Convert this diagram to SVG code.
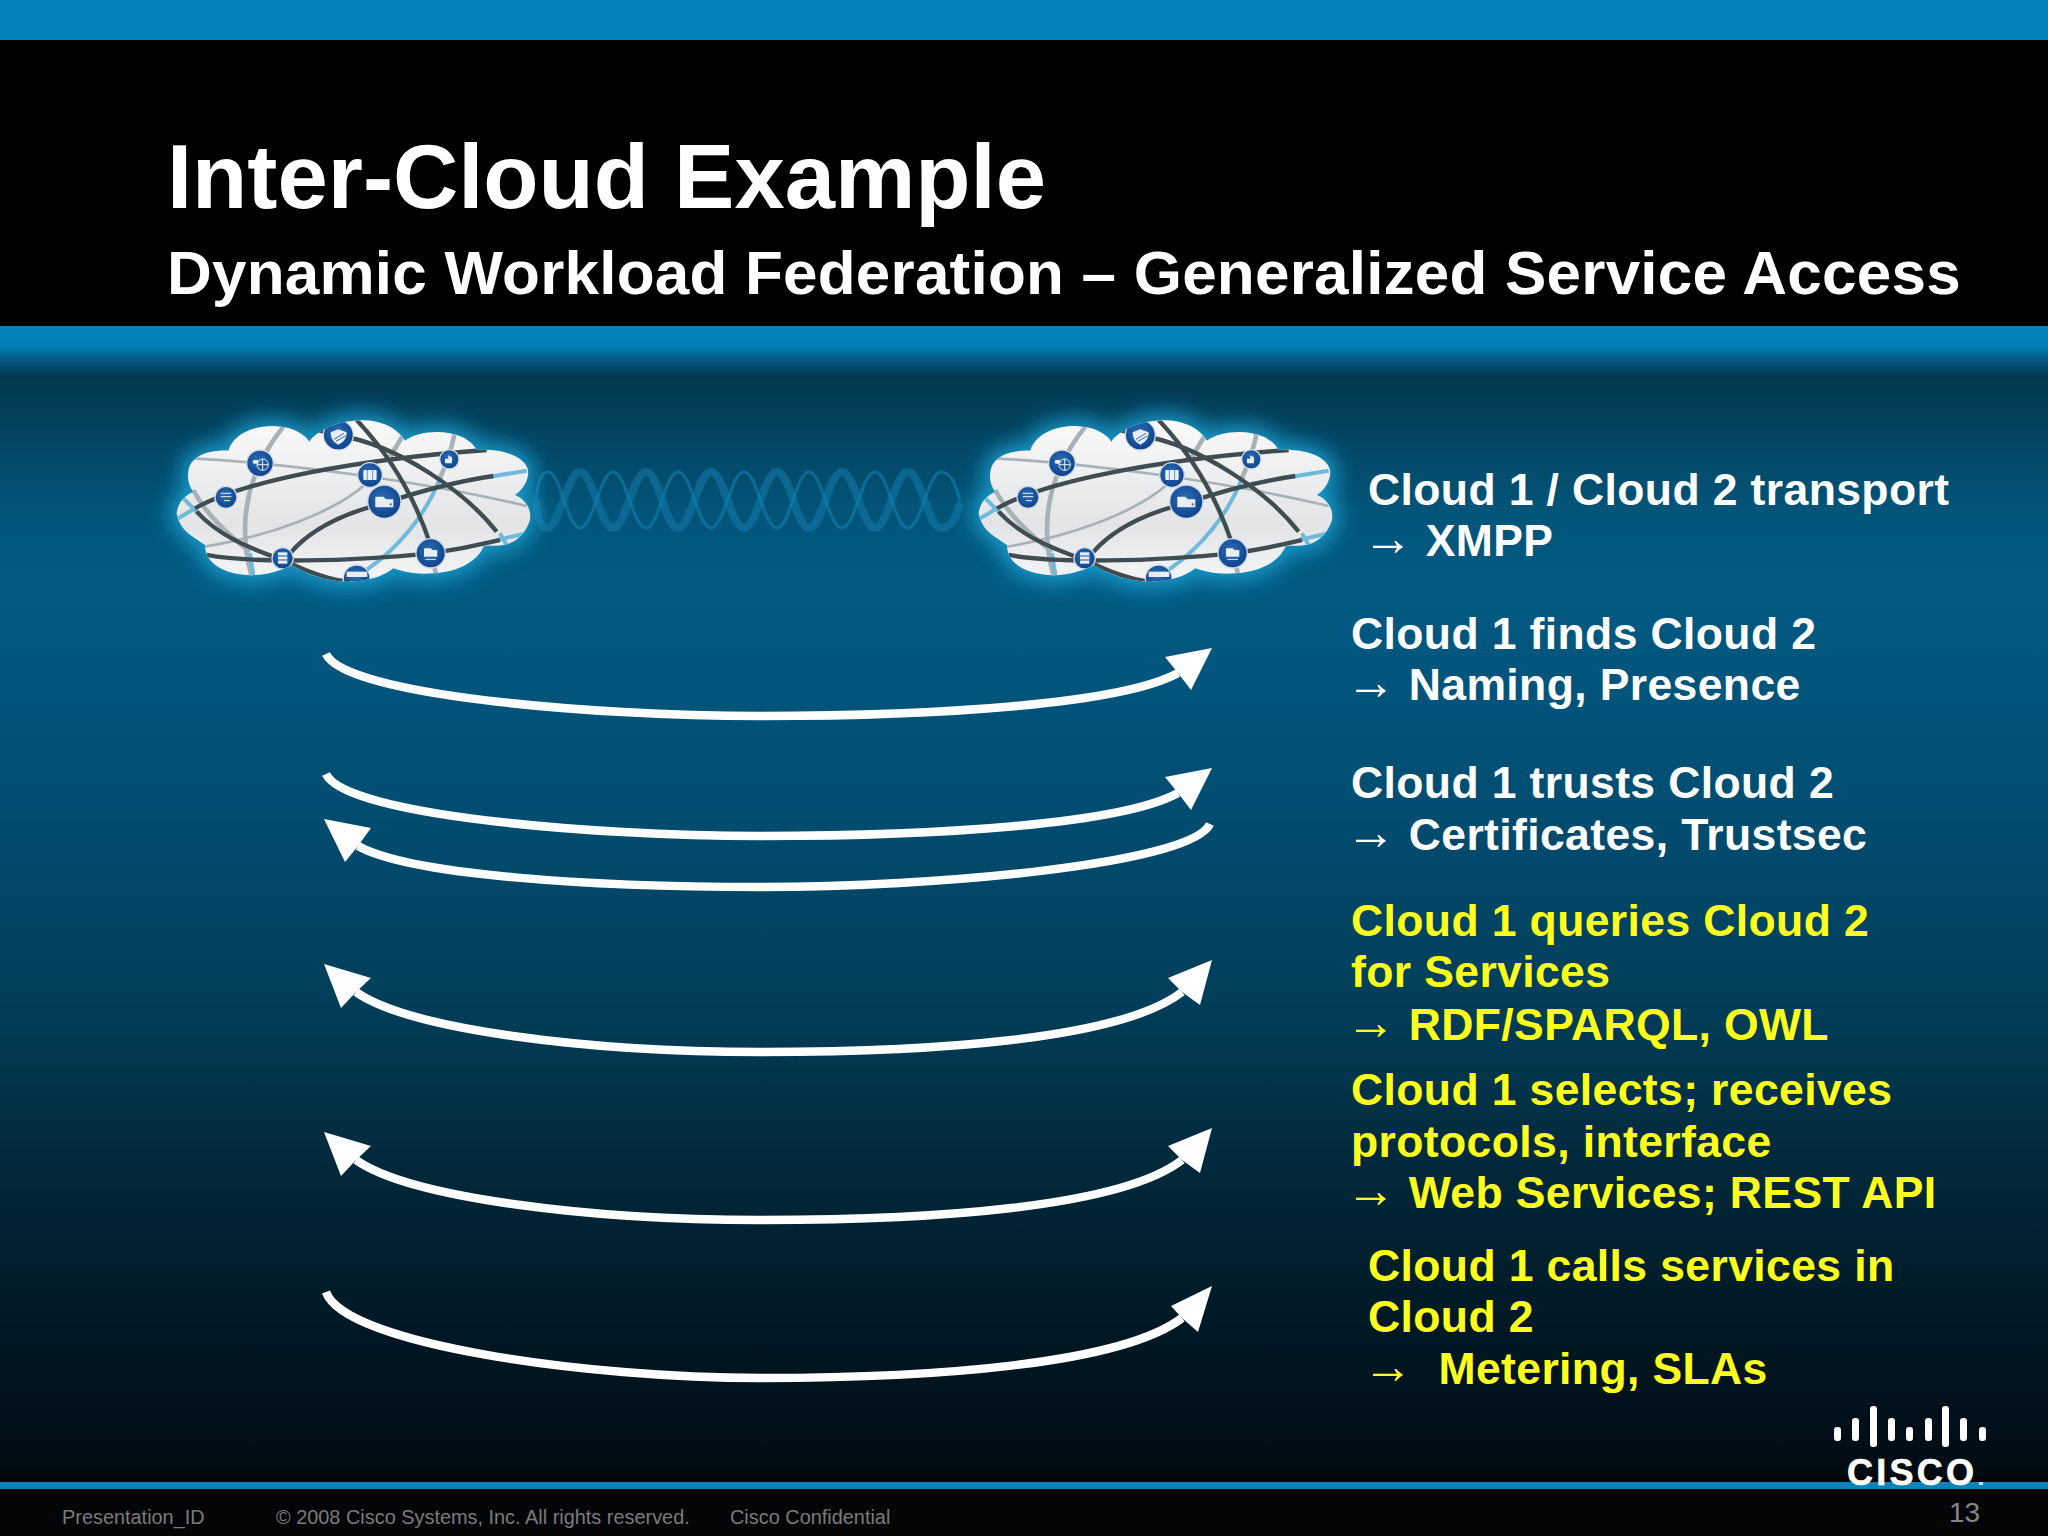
<svg xmlns="http://www.w3.org/2000/svg" xmlns:xlink="http://www.w3.org/1999/xlink" width="2048" height="1536" viewBox="0 0 2048 1536">
<style>
text{font-family:"Liberation Sans",Arial,sans-serif}
.t{font-weight:700;fill:#fff}
.b{font-size:44.5px;font-weight:700;fill:#fff;letter-spacing:.38px}
.y{font-size:44.5px;font-weight:700;fill:#ffff1e;letter-spacing:.38px}
.a{font-family:"Liberation Serif",serif;font-weight:400;font-size:50px;letter-spacing:0}
.f{font-size:19.9px;fill:#7b7b7b}
.shaft{fill:none;stroke:#fff;stroke-width:8.5;stroke-linecap:butt}
.head{fill:#fff}
.d{fill:none;stroke:#3f4d52;stroke-width:13}
.g{fill:none;stroke:#a6b2b7;stroke-width:14}
.l{fill:none;stroke:#6fb9da;stroke-width:12}
.n{fill:url(#disc);stroke:#cfdbe6;stroke-width:4}
.w{fill:#e8eef4}
.m{fill:none;stroke:#e8eef4;stroke-width:3}
.bar{fill:#fff}
</style>
<defs>
<linearGradient id="body" x1="0" y1="376" x2="0" y2="1476" gradientUnits="userSpaceOnUse">
<stop offset="0" stop-color="#04384f"/><stop offset=".12" stop-color="#025478"/><stop offset=".19" stop-color="#025a83"/><stop offset=".38" stop-color="#014e72"/><stop offset=".57" stop-color="#023e59"/><stop offset=".7" stop-color="#022b3e"/><stop offset=".83" stop-color="#011c29"/><stop offset=".96" stop-color="#010f18"/><stop offset="1" stop-color="#010b11"/>
</linearGradient>
<linearGradient id="band" x1="0" y1="326" x2="0" y2="376" gradientUnits="userSpaceOnUse">
<stop offset="0" stop-color="#0382bc"/><stop offset=".4" stop-color="#037fb5"/><stop offset=".7" stop-color="#04557c"/><stop offset="1" stop-color="#033a58"/>
</linearGradient>
<linearGradient id="cl" x1="0" y1="0" x2="0" y2="1">
<stop offset="0" stop-color="#fafafa"/><stop offset=".65" stop-color="#e2e4e6"/><stop offset="1" stop-color="#f6f6f7"/>
</linearGradient>
<radialGradient id="disc" cx=".45" cy=".4" r=".65">
<stop offset="0" stop-color="#2c6db4"/><stop offset="1" stop-color="#0c3f88"/>
</radialGradient>
<filter id="glow" x="-25%" y="-40%" width="150%" height="180%"><feGaussianBlur stdDeviation="32"/></filter>
<filter id="soft" x="-5%" y="-20%" width="110%" height="140%"><feGaussianBlur stdDeviation=".7"/></filter>
<path id="outline" d="M80,340C85,300 110,285 130,275C115,255 112,235 115,215C120,175 160,150 235,152C250,100 320,70 395,80C440,85 470,110 478,125C510,80 600,50 680,65C720,75 750,95 765,122C800,95 880,85 935,110C965,125 975,140 980,150C1060,145 1130,170 1135,215C1135,250 1110,275 1095,285C1130,300 1145,330 1140,360C1130,395 1100,430 1060,435C1030,440 1010,435 1000,440C985,480 930,515 850,520C800,525 760,515 730,505C700,530 650,545 590,545C540,545 470,525 425,495C400,510 340,530 290,525C220,520 165,490 165,435C130,410 90,395 80,340Z"/>
<clipPath id="clip"><use xlink:href="#outline"/></clipPath>
<g id="cloud">
<use xlink:href="#outline" fill="#1fa5d8" stroke="#1fa5d8" stroke-width="44" opacity=".85" filter="url(#glow)"/>
<use xlink:href="#outline" fill="url(#cl)"/>
<g clip-path="url(#clip)">
<path class="g" d="M400,80C320,180 250,330 305,530"/>
<path class="g" style="stroke-width:8" d="M130,175C400,190 800,240 1130,318"/>
<path class="g" style="stroke-width:8" d="M165,440C350,410 550,340 650,250"/>
<path class="g" d="M760,105L720,170"/>
<path class="g" d="M915,95C905,150 890,190 870,235"/>
<path class="l" d="M870,235C830,340 750,440 650,510"/>
<path class="g" d="M130,270C165,340 240,410 300,455"/>
<path class="g" d="M850,480L858,525"/>
<path class="l" d="M85,355L135,325M100,295L150,345M300,460L310,525M425,495L530,545M1050,400L1070,435M1130,212L1020,230M1130,400L1040,420"/>
<path class="d" d="M135,325C280,245 600,180 1010,150"/>
<path class="d" d="M620,60Q770,220 840,430"/>
<path class="d" d="M500,90L560,105C750,135 950,280 1040,395"/>
<path class="d" d="M140,335C200,400 280,440 400,480"/>
<path class="d" d="M420,460C480,390 580,340 700,310C850,260 950,240 1030,228"/>
<path class="d" d="M170,465C300,490 600,485 842,460C950,445 1000,432 1050,420"/>
<path class="d" d="M400,480C460,510 530,540 600,545"/>
<circle class="n" cx="330" cy="190" r="40"/><circle class="m" cx="338" cy="194" r="17"/><path class="m" d="M321,194H355M338,177V211"/><rect class="w" x="308" y="180" width="18" height="11" rx="5"/>
<circle class="n" cx="565" cy="105" r="45"/><path class="w" d="M565,88L590,97C590,118 578,128 565,134C552,128 542,118 542,97Z"/><path d="M552,118L582,100M558,124L586,108" stroke="#2c6db4" stroke-width="3"/>
<circle class="n" cx="898" cy="178" r="29"/><path class="w" d="M885,176H895V166L906,172V190H885Z"/>
<circle class="n" cx="660" cy="225" r="37"/><rect class="w" x="640" y="210" width="40" height="30" rx="3"/><path d="M652,210V240M668,210V240" stroke="#6b93c2" stroke-width="3"/>
<circle class="n" cx="228" cy="292" r="33"/><path class="m" d="M212,280H244M212,290H244M222,302H240"/>
<circle class="n" cx="703" cy="305" r="50"/><path class="w" d="M676,290H700L708,298H730V322H676Z"/><path d="M718,313H726M722,309V317" stroke="#1a4f96" stroke-width="2"/>
<circle class="n" cx="842" cy="460" r="44"/><path class="w" d="M822,445H842L848,450H862V470H822Z"/><path class="m" d="M826,478H858"/>
<circle class="n" cx="398" cy="475" r="32"/><rect class="w" x="384" y="457" width="28" height="34"/><path d="M384,468H412M384,480H412" stroke="#1a4f96" stroke-width="3"/>
<circle class="n" cx="620" cy="535" r="40"/><rect class="w" x="590" y="515" width="62" height="16"/>
</g>
</g>
</defs>

<rect id="bg" width="2048" height="1536" fill="#030507"/>
<rect y="376" width="2048" height="1100" fill="url(#body)"/>
<rect width="2048" height="40" fill="#0284b9"/>
<rect y="40" width="2048" height="286" fill="#000"/>
<rect y="326" width="2048" height="50" fill="url(#band)"/>
<rect y="1482" width="2048" height="7" fill="#0a84bb"/>

<g id="helix" fill="none" filter="url(#soft)">
<path stroke="#0f77a6" stroke-width="8" stroke-opacity=".6" d="M536,500Q538,528 547,528C560,528 567,472 580,472S600,528 613,528S633,472 646,472S665,528 678,528S698,472 711,472S731,528 744,528S764,472 777,472S796,528 809,528S829,472 842,472S862,528 875,528S895,472 908,472S928,528 941,528Q954,528 960,503"/>
<path stroke="#1280b0" stroke-width="3" stroke-opacity=".6" d="M536,500Q538,472 548,472C561,472 567,528 580,528S600,472 613,472S633,528 646,528S665,472 678,472S698,528 711,528S731,472 744,472S764,528 777,528S796,472 809,472S829,528 842,528S862,472 875,472S895,528 908,528S928,472 941,472Q954,472 960,503"/>
</g>

<g id="cloud-1" transform="translate(150,400) scale(.3333)"><use xlink:href="#cloud"/></g>
<g id="cloud-2" transform="translate(952,400) scale(.3333)"><use xlink:href="#cloud"/></g>

<g id="connectors">
<path class="shaft" d="M326,654C345,695 590,716 760,716C930,716 1120,705 1178,673"/><polygon class="head" points="1212,648 1165,657 1178,673 1191,690"/>
<path class="shaft" d="M326,774C345,815 590,836 760,836C930,836 1120,825 1178,793"/><polygon class="head" points="1212,768 1165,777 1178,793 1191,810"/>
<path class="shaft" d="M1210,824C1190,865 930,887 760,887C590,887 410,875 358,846"/><polygon class="head" points="324,819 371,828 358,846 345,862"/>
<path class="shaft" d="M356,992C410,1030 590,1052 760,1052C930,1052 1120,1040 1182,992"/><polygon class="head" points="324,964 371,978 356,992 341,1008"/><polygon class="head" points="1212,960 1168,978 1182,992 1200,1005"/>
<path class="shaft" d="M356,1160C410,1198 590,1220 760,1220C930,1220 1120,1208 1182,1160"/><polygon class="head" points="324,1132 371,1146 356,1160 341,1176"/><polygon class="head" points="1212,1128 1168,1146 1182,1160 1200,1173"/>
<path class="shaft" d="M326,1292C345,1345 590,1378 760,1378C930,1378 1120,1365 1182,1318"/><polygon class="head" points="1212,1286 1171,1306 1182,1318 1198,1332"/>
</g>

<g id="title">
<text class="t" x="167" y="208" font-size="90.4">Inter-Cloud Example</text>
<text class="t" x="167" y="294" font-size="62" letter-spacing=".22">Dynamic Workload Federation – Generalized Service Access</text>
</g>
<g id="labels">
<text class="b" x="1368" y="505">Cloud 1 / Cloud 2 transport</text><text class="b" x="1363" y="556"><tspan class="a" dy="-1">→</tspan><tspan dy="1"> XMPP</tspan></text>
<text class="b" x="1351" y="649">Cloud 1 finds Cloud 2</text><text class="b" x="1346" y="700"><tspan class="a" dy="-1">→</tspan><tspan dy="1"> Naming, Presence</tspan></text>
<text class="b" x="1351" y="798">Cloud 1 trusts Cloud 2</text><text class="b" x="1346" y="850"><tspan class="a" dy="-1">→</tspan><tspan dy="1"> Certificates, Trustsec</tspan></text>
<text class="y" x="1351" y="936">Cloud 1 queries Cloud 2</text><text class="y" x="1351" y="987">for Services</text><text class="y" x="1346" y="1040"><tspan class="a" dy="-1">→</tspan><tspan dy="1"> RDF/SPARQL, OWL</tspan></text>
<text class="y" x="1351" y="1105">Cloud 1 selects; receives</text><text class="y" x="1351" y="1157">protocols, interface</text><text class="y" x="1346" y="1208"><tspan class="a" dy="-1">→</tspan><tspan dy="1"> Web Services; REST API</tspan></text>
<text class="y" x="1368" y="1281">Cloud 1 calls services in</text><text class="y" x="1368" y="1332">Cloud 2</text><text class="y" x="1363" y="1384"><tspan class="a" dy="-1">→</tspan><tspan dy="1">&#160;&#160;Metering, SLAs</tspan></text>
</g>
<g id="logo">
<rect class="bar" x="1834" y="1427" width="7" height="14" rx="3"/><rect class="bar" x="1852" y="1418" width="7" height="23" rx="3"/><rect class="bar" x="1870" y="1406" width="7" height="41" rx="3"/><rect class="bar" x="1888" y="1418" width="7" height="23" rx="3"/><rect class="bar" x="1906" y="1427" width="7" height="14" rx="3"/><rect class="bar" x="1925" y="1418" width="7" height="23" rx="3"/><rect class="bar" x="1942" y="1406" width="7" height="41" rx="3"/><rect class="bar" x="1960" y="1418" width="7" height="23" rx="3"/><rect class="bar" x="1979" y="1427" width="7" height="14" rx="3"/>
<text x="1847" y="1485" font-size="36" font-weight="700" fill="#fff" stroke="#fff" stroke-width=".6" textLength="127" lengthAdjust="spacing">CISCO</text>
<rect x="1979" y="1482" width="4" height="3" fill="#cde"/>
</g>
<g id="footer">
<text class="f" x="62" y="1524">Presentation_ID</text>
<text class="f" x="276" y="1524">© 2008 Cisco Systems, Inc. All rights reserved.</text>
<text class="f" x="730" y="1524">Cisco Confidential</text>
<text x="1949" y="1522" font-size="28" fill="#858585">13</text>
</g>
</svg>
